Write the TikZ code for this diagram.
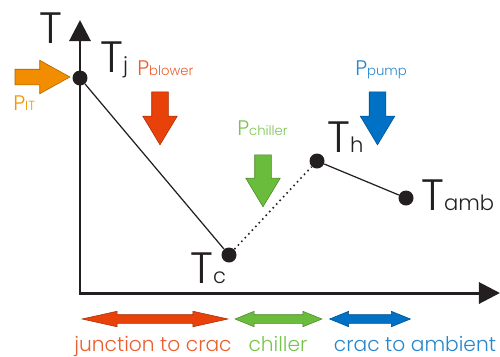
\documentclass[tikz,border=0pt]{standalone}
\usepackage{fontspec}
\setmainfont{Poppins Light}
\usetikzlibrary{arrows.meta, positioning, shapes.arrows}
\definecolor{itorange}{HTML}{F28C00}
\definecolor{blowred}{HTML}{E8410A}
\definecolor{chillgreen}{HTML}{6ABD3C}
\definecolor{pumpblue}{HTML}{0071C5}
\definecolor{inkgray}{HTML}{231F20}

\newcommand{\tname}[1]{{\fontsize{25}{25}\selectfont T}{\fontsize{12}{12}\selectfont #1}}
\newcommand{\pname}[1]{{\fontsize{12}{12}\selectfont P}{\fontsize{7.5}{7.5}\selectfont #1}}

\begin{document}
\begin{tikzpicture}[
    x=0.02cm, y=-0.02cm,
    axis/.style={line width=1.7pt, draw=inkgray, -{Triangle[length=12pt, width=12pt]}},
    dot/.style={circle, fill=inkgray, inner sep=0pt, minimum size=0.3cm},
    tlabel/.style={inner sep=0pt, anchor=base west, text=inkgray},
    plabel/.style={inner sep=0pt, anchor=base west},
    blockarrow/.style={single arrow, inner sep=0.16cm, single arrow head extend=0.18cm,
        single arrow tip angle=62, draw=#1!70!black, line width=0.3pt, fill=#1},
    spanarrow/.style={double arrow, inner sep=0.08cm, double arrow head extend=0.07cm,
        draw=#1!70!black, line width=0.3pt, fill=#1},
    spanlabel/.style={inner sep=0pt, anchor=base, font=\fontsize{11.5}{11.5}\selectfont},
]
\useasboundingbox (0,0) rectangle (500,356);

% axes
\coordinate (origin) at (80,293);
\coordinate (ytop) at (80,20);
\coordinate (xend) at (500,293);
\draw[axis] (origin) -- (ytop);
\draw[axis, shorten <=-0.85pt] (origin) -- (xend);
\node[tlabel, font=\fontsize{25}{25}\selectfont] (taxis) at (39,43) {T};

% temperature points
\node[dot] (tj) at (80,78) {};
\node[dot] (tc) at (229,255) {};
\node[dot] (th) at (317,161) {};
\node[dot] (tamb) at (406,198) {};
\draw[inkgray, line width=0.7pt] (tj) -- (tc);
\draw[inkgray, line width=0.9pt, dotted] (tc) -- (th);
\draw[inkgray, line width=0.7pt] (th) -- (tamb);

\node[tlabel] (tjlab) at (100,72) {\tname{j}};
\node[tlabel] (tclab) at (190,283) {\tname{c}};
\node[tlabel] (thlab) at (327,152) {\tname{h}};
\node[tlabel] (tamblab) at (421,210) {\tname{amb}};

% power inputs
\node[blockarrow=itorange, minimum height=1.1cm, single arrow tip angle=58,
      inner sep=0.15cm] (pit) at (35.5,77) {};
\node[plabel, text=itorange!90!yellow] (pitlab) at (13,110) {\pname{IT}};

\node[blockarrow=blowred, minimum height=1.06cm, rotate=-90] (pblow) at (160,111.5) {};
\node[plabel, text=blowred!85!white] (pblowlab) at (137,75) {\pname{blower}};

\node[blockarrow=chillgreen, minimum height=1.04cm, rotate=-90] (pchill) at (263,174) {};
\node[plabel, text=chillgreen!90!white] (pchilllab) at (237,135) {\pname{chiller}};

\node[blockarrow=pumpblue, minimum height=1.06cm, rotate=-90] (ppump) at (377.5,111.5) {};
\node[plabel, text=pumpblue!85!white] (ppumplab) at (355,75) {\pname{pump}};

% stages
\node[spanarrow=blowred, minimum height=2.92cm, double arrow tip angle=25] (s1) at (155,319) {};
\node[spanarrow=chillgreen, minimum height=1.74cm, double arrow tip angle=44] (s2) at (278.5,319) {};
\node[spanarrow=pumpblue, minimum height=1.62cm, double arrow tip angle=44] (s3) at (370,319) {};

\node[spanlabel, text=blowred!85!white] (s1lab) at (153,351) {junction to crac};
\node[spanlabel, text=chillgreen!90!white] (s2lab) at (278,351) {chiller};
\node[spanlabel, text=pumpblue!85!white] (s3lab) at (415,351) {crac to ambient};
\end{tikzpicture}
\end{document}
